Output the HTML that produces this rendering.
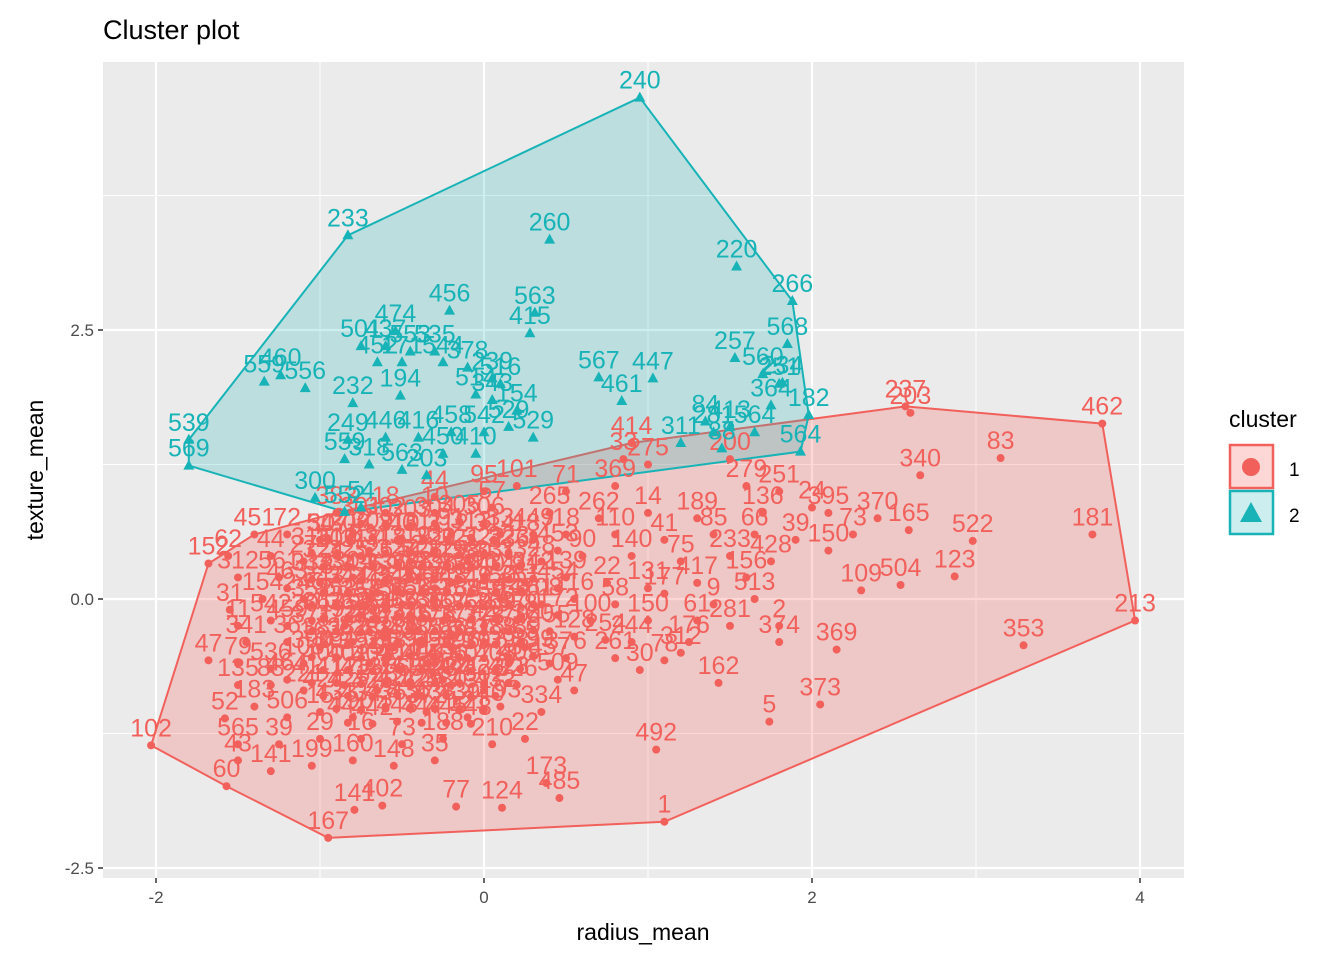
<!DOCTYPE html>
<html><head><meta charset="utf-8"><style>
body{margin:0;background:#fff;}
svg text{font-family:"Liberation Sans",sans-serif;}
</style></head><body>
<svg id="chart" width="1344" height="960" xmlns="http://www.w3.org/2000/svg">
<rect x="0" y="0" width="1344" height="960" fill="#fff"/>
<text x="103" y="39" font-size="27" fill="#000">Cluster plot</text>
<rect x="103" y="62" width="1081" height="816" fill="#ebebeb"/>
<g id="grid"></g>
<g id="hulls"></g>
<g id="marks"></g>
<g id="axes"></g>
<text x="643" y="940" font-size="23" text-anchor="middle">radius_mean</text>
<text transform="translate(43,470) rotate(-90)" font-size="23" text-anchor="middle">texture_mean</text>
<g>
<text x="1229" y="427" font-size="23">cluster</text>
<g>
<rect x="1230" y="445" width="43" height="43" fill="rgba(242,96,91,0.25)" stroke="#F2605B" stroke-width="2.5"/>
<circle cx="1251" cy="467" r="9" fill="#F2605B"/>
<text x="1289" y="476" font-size="19">1</text></g>
<g>
<rect x="1230" y="491" width="43" height="43" fill="rgba(23,179,183,0.22)" stroke="#17B3B7" stroke-width="2.5"/>
<path d="M1251 502 L1262 522 L1240 522 Z" fill="#17B3B7"/>
<text x="1289" y="522" font-size="19">2</text></g>
</g>
</svg>
<script>
const xTicks=[-2,0,2,4];
const yTicks=[-2.5,0.0,2.5];
const yTickLabels=["-2.5","0.0","2.5"];
const redPoints="2.57,1.79,237;2.60,1.73,203;3.77,1.63,462;3.15,1.31,83;2.66,1.15,340;3.71,0.60,181;3.97,-0.20,213;2.59,0.64,165;2.98,0.54,522;2.87,0.21,123;2.54,0.13,504;2.30,0.08,109;3.29,-0.43,353;2.15,-0.47,369;2.05,-0.98,373;1.74,-1.14,5;1.43,-0.78,162;1.05,-1.40,492;1.10,-2.07,1;-0.95,-2.22,167;-2.03,-1.36,102;-1.57,-1.74,60;-1.68,0.33,152;-1.56,0.40,62;-1.68,-0.57,47;-1.58,-1.11,52;-0.17,-1.93,77;0.11,-1.94,124;0.46,-1.85,485;-0.79,-1.96,141;-0.62,-1.92,402;0.38,-1.71,173;0.95,-0.66,30;1.10,-0.57,78;0.74,-0.38,254;0.9,1.45,414;1.0,1.25,275;0.85,1.3,33;1.5,1.3,200;0.2,1.05,101;0.5,1.0,71;0.8,1.05,369;1.6,1.05,279;1.8,1.0,251;0.0,1.0,95;-0.3,0.95,44;-0.9,0.8,383;-0.6,0.8,18;-0.3,0.8,10;0.05,0.85,57;0.4,0.8,265;0.7,0.75,262;1.0,0.8,14;1.3,0.75,189;1.7,0.8,136;2.1,0.8,395;2.4,0.75,370;2.0,0.85,24;-1.4,0.6,451;-1.2,0.6,72;-1.0,0.55,54;-0.8,0.6,212;-0.5,0.55,40;-0.2,0.6,91;0.1,0.6,33;0.3,0.55,187;0.5,0.6,18;0.8,0.6,110;1.1,0.55,41;1.4,0.6,85;1.65,0.6,66;1.9,0.55,39;2.25,0.6,73;2.1,0.45,150;1.5,0.4,233;-1.3,0.4,44;-1.1,0.35,27;-0.9,0.4,207;-0.7,0.45,331;-0.45,0.35,12;-0.3,0.45,3;-0.1,0.35,7;0.15,0.4,236;0.35,0.35,48;0.6,0.4,90;0.9,0.4,140;1.2,0.35,75;1.75,0.35,428;-1.5,0.2,312;-1.25,0.2,561;-1.0,0.15,13;-0.8,0.2,304;-0.6,0.15,59;-0.4,0.2,88;-0.2,0.15,206;0.0,0.2,96;0.25,0.15,81;0.5,0.2,139;0.75,0.15,22;1.0,0.1,131;1.3,0.15,417;1.6,0.2,156;-1.55,-0.1,31;-1.35,0.0,154;-1.1,0.0,246;-0.9,-0.05,68;-0.7,0.0,16;-0.5,-0.05,4;-0.3,0.0,25;-0.1,-0.05,84;0.1,0.0,142;0.35,-0.05,208;0.55,0.0,116;0.8,-0.05,58;1.1,0.05,177;1.4,-0.05,9;1.65,0.0,513;-1.5,-0.25,11;-1.3,-0.2,542;-1.05,-0.2,201;-0.85,-0.25,92;-0.65,-0.2,37;-0.45,-0.15,133;-0.25,-0.2,19;0.0,-0.25,42;0.2,-0.2,358;0.45,-0.15,172;0.65,-0.2,100;1.0,-0.2,150;1.3,-0.2,61;1.8,-0.25,2;-1.45,-0.4,341;-1.2,-0.4,36;-1.0,-0.45,163;-0.8,-0.4,82;-0.6,-0.35,273;-0.4,-0.4,50;-0.2,-0.45,97;0.0,-0.4,418;0.25,-0.45,55;0.55,-0.35,128;0.9,-0.4,244;1.25,-0.4,176;1.5,-0.25,281;1.8,-0.4,374;-1.5,-0.6,79;-1.3,-0.65,536;-1.1,-0.6,108;-0.9,-0.55,43;-0.7,-0.6,35;-0.5,-0.65,119;-0.3,-0.6,225;-0.1,-0.55,297;0.15,-0.6,23;0.5,-0.55,376;0.8,-0.55,261;1.2,-0.5,312;-1.5,-0.8,135;-1.3,-0.8,88;-1.1,-0.85,221;-0.85,-0.8,17;-0.65,-0.85,328;-0.45,-0.8,65;-0.2,-0.8,284;0.0,-0.85,302;0.2,-0.8,326;0.45,-0.75,509;0.55,-0.85,47;-1.4,-1.0,183;-1.2,-1.1,506;-1.0,-1.05,15;-0.8,-1.1,190;-0.6,-1.0,28;-0.35,-1.05,372;-0.1,-1.1,121;0.1,-1.0,193;0.35,-1.05,334;-1.5,-1.35,565;-1.25,-1.35,39;-1.0,-1.3,29;-0.75,-1.3,16;-0.5,-1.35,73;-0.25,-1.3,188;0.05,-1.35,210;0.25,-1.3,22;-1.5,-1.5,43;-1.3,-1.6,141;-1.05,-1.55,199;-0.8,-1.5,160;-0.55,-1.55,148;-0.3,-1.5,35;-0.4,-0.3,46;-0.6,-0.1,51;-0.3,0.1,87;-0.5,0.05,120;-0.2,-0.35,6;-0.7,-0.3,264;-0.35,-0.6,112;-0.55,-0.45,243;-0.15,0.3,158;-0.45,0.25,71;-0.6,-0.6,98;-0.4,-0.9,125;-0.75,-0.15,63;-0.25,-0.75,118";
const redCorePoints="-0.75,0.7,301;-0.6,0.7,302;-0.45,0.68,303;-0.3,0.7,304;-0.15,0.72,305;0.0,0.7,306;-0.95,0.55,307;-0.82,0.55,308;-0.68,0.57,309;-0.52,0.55,310;-0.37,0.56,311;-0.22,0.55,312;-0.08,0.57,313;0.06,0.55,314;-1.05,0.42,315;-0.9,0.42,316;-0.75,0.4,317;-0.6,0.42,318;-0.45,0.43,319;-0.3,0.42,320;-0.15,0.41,321;0.0,0.42,322;0.15,0.43,323;-0.98,0.3,324;-0.83,0.3,325;-0.68,0.3,326;-0.53,0.31,327;-0.38,0.3,328;-0.23,0.3,329;-0.08,0.29,330;0.07,0.3,331;0.22,0.31,332;-1.05,0.18,333;-0.9,0.18,334;-0.75,0.17,335;-0.6,0.18,336;-0.45,0.19,337;-0.3,0.18,338;-0.15,0.18,339;0.0,0.17,340;0.15,0.18,341;0.3,0.19,342;-0.98,0.06,343;-0.83,0.06,344;-0.68,0.05,345;-0.53,0.07,346;-0.38,0.06,347;-0.23,0.06,348;-0.08,0.05,349;0.07,0.06,350;0.22,0.07,351;-1.05,-0.06,352;-0.9,-0.06,353;-0.75,-0.07,354;-0.6,-0.06,355;-0.45,-0.05,356;-0.3,-0.06,357;-0.15,-0.06,358;0.0,-0.07,359;0.15,-0.06,360;0.3,-0.05,361;-0.98,-0.18,362;-0.83,-0.18,363;-0.68,-0.19,364;-0.53,-0.17,365;-0.38,-0.18,366;-0.23,-0.18,367;-0.08,-0.19,368;0.07,-0.18,369;0.22,-0.17,370;-1.05,-0.3,371;-0.9,-0.3,372;-0.75,-0.31,373;-0.6,-0.3,374;-0.45,-0.29,375;-0.3,-0.3,376;-0.15,-0.3,377;0.0,-0.31,378;0.15,-0.3,379;0.3,-0.29,380;-0.98,-0.42,381;-0.83,-0.42,382;-0.68,-0.43,383;-0.53,-0.41,384;-0.38,-0.42,385;-0.23,-0.42,386;-0.08,-0.43,387;0.07,-0.42,388;0.22,-0.41,389;-1.05,-0.54,390;-0.9,-0.54,391;-0.75,-0.55,392;-0.6,-0.54,393;-0.45,-0.53,394;-0.3,-0.54,395;-0.15,-0.54,396;0.0,-0.55,397;0.15,-0.54,398;0.3,-0.53,399;-0.98,-0.66,400;-0.83,-0.66,401;-0.68,-0.67,403;-0.53,-0.65,404;-0.38,-0.66,405;-0.23,-0.66,406;-0.08,-0.67,407;0.07,-0.66,408;0.22,-0.65,409;-1.05,-0.78,411;-0.9,-0.78,412;-0.75,-0.79,413;-0.6,-0.78,416;-0.45,-0.77,419;-0.3,-0.78,420;-0.15,-0.78,421;0.0,-0.79,422;0.15,-0.78,423;-0.98,-0.9,424;-0.83,-0.9,425;-0.68,-0.91,426;-0.53,-0.89,427;-0.38,-0.9,429;-0.23,-0.9,430;-0.08,-0.91,431;0.07,-0.9,432;-0.9,-1.02,433;-0.75,-1.03,434;-0.6,-1.02,435;-0.45,-1.01,436;-0.3,-1.02,438;-0.15,-1.02,439;0.0,-1.03,440;-0.83,-1.15,441;-0.68,-1.16,442;-0.53,-1.14,443;-0.38,-1.15,444;-0.23,-1.15,445;-0.08,-1.16,448;0.3,0.6,449;0.45,0.45,453;0.45,0.1,454;0.4,-0.3,455;0.4,-0.6,457;-1.2,-0.25,459;-1.2,0.1,463;-1.2,-0.75,464";
const bluePoints="0.95,4.66,240;-0.83,3.38,233;0.40,3.34,260;1.54,3.09,220;1.88,2.77,266;1.85,2.37,568;-1.80,1.48,539;-1.80,1.24,569;1.98,1.71,182;1.93,1.37,564;-0.21,2.68,456;0.31,2.66,563;0.28,2.47,415;-0.54,2.49,474;0.70,2.06,567;1.03,2.05,447;0.84,1.84,461;1.53,2.24,257;1.70,2.09,560;1.82,2.01,234;-1.24,2.08,460;-1.34,2.02,559;-1.09,1.96,556;-0.80,1.82,232;-0.51,1.89,194;-0.83,1.48,249;-1.03,0.94,300;-0.85,0.81,552;-0.75,2.35,501;-0.6,2.35,437;-0.45,2.3,553;-0.3,2.3,535;-0.65,2.2,452;-0.5,2.2,171;-0.25,2.2,544;-0.1,2.15,378;0.05,2.05,239;0.1,2.0,516;0.05,1.85,343;-0.05,1.9,514;0.2,1.75,154;0.15,1.6,529;-0.2,1.55,458;-0.4,1.5,416;-0.6,1.5,446;-0.85,1.3,559;-0.7,1.25,318;-0.5,1.2,563;-0.35,1.15,203;-0.25,1.35,450;-0.05,1.35,410;0.0,1.55,542;0.3,1.5,529;1.2,1.45,311;1.4,1.55,281;1.35,1.65,84;1.5,1.6,413;1.65,1.55,564;1.75,1.8,364;1.8,2.0,251;1.45,1.4,88;-0.75,0.85,54";
function parse(s){return s.split(";").map(r=>{const a=r.split(",");return {x:+a[0],y:+a[1],l:a[2]};});}
const red=parse(redPoints).concat(parse(redCorePoints)), blue=parse(bluePoints);
const RED="#F2605B", CY="#17B3B7";
const X0=103,X1=1184,Y0=62,Y1=878;
function sx(v){return 484+v*164;}
function sy(v){return 599-v*107.6;}
const NS="http://www.w3.org/2000/svg";
function mk(t,attrs,parent){const e=document.createElementNS(NS,t);for(const k in attrs)e.setAttribute(k,attrs[k]);parent.appendChild(e);return e;}
const grid=document.getElementById('grid');
for(let i=0;i<xTicks.length;i++){
 const l=mk('line',{x1:sx(xTicks[i]),x2:sx(xTicks[i]),y1:Y0,y2:Y1,stroke:'#fff','stroke-width':2.2},grid);
 
 
 if(i<xTicks.length-1){const m=(xTicks[i]+xTicks[i+1])/2;const l2=mk('line',{x1:sx(m),x2:sx(m),y1:Y0,y2:Y1,stroke:'#fff','stroke-width':1},grid);
 
 }
}
const yMinor=[-1.25,1.25,3.75];
for(const m of yMinor){const l=mk('line',{x1:X0,x2:X1,y1:sy(m),y2:sy(m),stroke:'#fff','stroke-width':1},grid);
 
 }
for(const t of yTicks){const l=mk('line',{x1:X0,x2:X1,y1:sy(t),y2:sy(t),stroke:'#fff','stroke-width':2.2},grid);
 
 }
const axes=document.getElementById('axes');
xTicks.forEach(t=>{mk('line',{x1:sx(t),x2:sx(t),y1:Y1,y2:Y1+5,stroke:'#333','stroke-width':1.5},axes);
 const tx=mk('text',{x:sx(t),y:Y1+25,'font-size':17,fill:'#4d4d4d','text-anchor':'middle'},axes);tx.textContent=t;
 
 });
yTicks.forEach((t,i)=>{mk('line',{x1:X0-5,x2:X0,y1:sy(t),y2:sy(t),stroke:'#333','stroke-width':1.5},axes);
 const tx=mk('text',{x:X0-9,y:sy(t)+6,'font-size':17,fill:'#4d4d4d','text-anchor':'end'},axes);tx.textContent=yTickLabels[i];
 
 });
function hull(pts){const p=pts.map(d=>[d.x,d.y]).sort((a,b)=>a[0]-b[0]||a[1]-b[1]);
 const cr=(o,a,b)=>(a[0]-o[0])*(b[1]-o[1])-(a[1]-o[1])*(b[0]-o[0]);
 const lo=[],up=[];for(const q of p){while(lo.length>=2&&cr(lo[lo.length-2],lo[lo.length-1],q)<=0)lo.pop();lo.push(q);}
 for(let i=p.length-1;i>=0;i--){const q=p[i];while(up.length>=2&&cr(up[up.length-2],up[up.length-1],q)<=0)up.pop();up.push(q);}
 up.pop();lo.pop();return lo.concat(up);}
const hg=document.getElementById('hulls');
[[red,'rgba(242,96,91,0.25)',RED,'cluster-1-hull'],[blue,'rgba(23,179,183,0.22)',CY,'cluster-2-hull']].forEach(([d,f,s,n])=>{
 const h=hull(d);const poly=mk('polygon',{points:h.map(q=>sx(q[0])+','+sy(q[1])).join(' '),fill:f,stroke:s,'stroke-width':2},hg);
 
 });
const mg=document.getElementById('marks');
red.forEach(d=>{const c=mk('circle',{cx:sx(d.x),cy:sy(d.y),r:4,fill:RED},mg);
 
 
 const t=mk('text',{x:sx(d.x),y:sy(d.y)-9,'font-size':25,fill:RED,'text-anchor':'middle'},mg);t.textContent=d.l;
 
 });
blue.forEach(d=>{const x=sx(d.x),y=sy(d.y);const p=mk('path',{d:`M${x} ${y-6} L${x+5.5} ${y+4} L${x-5.5} ${y+4} Z`,fill:CY},mg);
 
 
 const t=mk('text',{x:x,y:y-9,'font-size':25,fill:CY,'text-anchor':'middle'},mg);t.textContent=d.l;
 
 });
</script>
</body></html>
